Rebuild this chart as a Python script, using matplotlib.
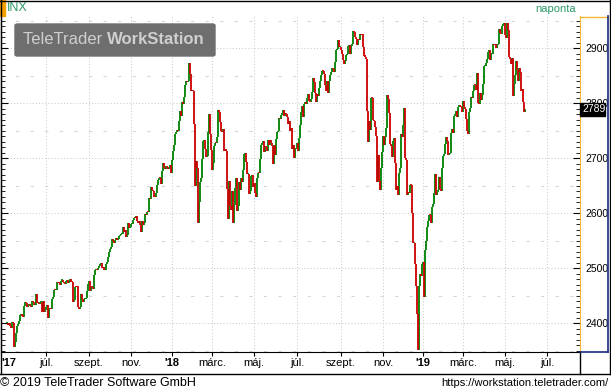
import numpy as np
import pandas as pd
import matplotlib
matplotlib.use('Agg')
from matplotlib import pyplot as plt
from matplotlib.lines import Line2D
from matplotlib.patches import Rectangle, FancyBboxPatch

# daily closes of INX, 8 May 2017 .. 30 May 2019
prev_close = 2399.29
close_2017 = [
    2399.38, 2396.92, 2399.63, 2394.44, 2390.90, 2402.32, 2400.67, 2357.03, 2365.72, 2381.73,
    2394.02, 2398.42, 2404.39, 2415.07, 2415.82, 2412.91, 2411.80,
    2430.06, 2439.07, 2436.10, 2429.33, 2433.14, 2433.79, 2431.77, 2429.39, 2440.35, 2437.92,
    2432.46, 2433.15, 2453.46, 2437.03, 2435.61, 2434.50, 2438.30, 2439.07, 2419.38, 2440.69,
    2419.70, 2423.41,
    2429.01, 2432.54, 2409.75, 2425.18, 2427.43, 2425.53, 2443.25, 2447.83, 2459.27, 2459.14,
    2460.61, 2473.83, 2473.45, 2472.54, 2469.91, 2477.13, 2477.83, 2475.42, 2472.10, 2470.30,
    2476.35, 2477.57, 2472.16, 2476.83, 2480.91, 2474.92, 2474.02, 2438.21, 2441.32, 2465.84,
    2464.61, 2468.11, 2430.01, 2425.55, 2428.37, 2452.51, 2444.04, 2438.97, 2443.05, 2444.24,
    2446.30, 2457.59, 2471.65,
    2476.55, 2457.85, 2465.54, 2465.10, 2461.43, 2488.11, 2496.48, 2498.37, 2495.62, 2500.23,
    2503.87, 2506.65, 2508.24, 2500.60, 2502.22, 2496.66, 2496.84, 2507.04, 2510.06, 2519.36,
    2529.12, 2534.58, 2537.74, 2552.07, 2549.33, 2544.73, 2550.64, 2555.24, 2550.93, 2553.17,
    2557.64, 2559.36, 2561.26, 2562.10, 2575.21, 2564.98, 2569.13, 2557.15, 2560.40, 2581.07,
    2572.83, 2575.26,
    2579.36, 2579.85, 2587.84, 2591.13, 2590.64, 2594.38, 2584.62, 2582.30, 2584.84, 2578.87,
    2564.62, 2585.64, 2578.85, 2582.14, 2599.03, 2597.08, 2602.42, 2601.42, 2627.04, 2626.07,
    2647.58,
    2642.22, 2639.44, 2629.57, 2629.27, 2636.98, 2651.50, 2659.99, 2664.11, 2662.85, 2652.01,
    2675.81, 2690.16, 2681.47, 2679.25, 2684.57, 2683.34, 2680.50, 2682.62, 2687.54, 2673.61,
]
close_2018 = [
    2695.81, 2713.06, 2723.99, 2743.15, 2747.71, 2751.29, 2748.23, 2767.56, 2786.24, 2776.42,
    2802.56, 2798.03, 2810.30, 2832.97, 2839.13, 2837.54, 2839.25, 2872.87, 2853.53, 2822.43,
    2823.81,
    2821.98, 2762.13, 2648.94, 2695.14, 2681.66, 2581.00, 2619.55, 2656.00, 2662.94, 2698.63,
    2731.20, 2732.22, 2716.26, 2701.33, 2703.96, 2747.30, 2779.60, 2744.28, 2713.83,
    2677.67, 2691.25, 2720.94, 2728.12, 2726.80, 2738.97, 2786.57, 2783.02, 2765.31, 2749.48,
    2747.33, 2752.01, 2712.92, 2716.94, 2711.93, 2643.69, 2588.26, 2658.55, 2612.62, 2605.00,
    2640.87,
    2581.88, 2614.45, 2644.69, 2662.84, 2604.47, 2613.16, 2656.87, 2642.19, 2663.99, 2656.30,
    2677.84, 2706.39, 2708.64, 2693.13, 2670.14, 2670.29, 2634.56, 2639.40, 2666.94, 2669.91,
    2648.05,
    2654.80, 2635.67, 2629.73, 2663.42, 2672.63, 2671.92, 2697.79, 2723.07, 2727.72, 2730.13,
    2711.45, 2722.46, 2720.13, 2712.97, 2733.01, 2724.44, 2733.29, 2727.76, 2721.33, 2689.86,
    2724.01, 2705.27,
    2734.62, 2746.87, 2748.80, 2772.35, 2770.37, 2779.03, 2782.00, 2786.85, 2775.63, 2782.49,
    2779.66, 2773.75, 2762.59, 2767.32, 2749.76, 2754.88, 2717.07, 2723.06, 2699.63, 2716.31,
    2718.37,
    2726.71, 2713.22, 2736.61, 2759.82, 2784.17, 2793.84, 2774.02, 2798.29, 2801.31, 2798.43,
    2809.55, 2815.62, 2804.49, 2801.83, 2806.98, 2820.40, 2846.07, 2837.44, 2818.82, 2802.60,
    2816.29,
    2813.36, 2827.22, 2840.35, 2850.40, 2858.45, 2857.70, 2853.58, 2833.28, 2821.93, 2839.96,
    2818.37, 2840.69, 2850.13, 2857.05, 2862.96, 2861.82, 2856.98, 2874.69, 2896.74, 2897.52,
    2914.04, 2901.13, 2901.52,
    2896.72, 2888.60, 2878.05, 2871.68, 2877.13, 2887.89, 2888.92, 2904.18, 2904.98, 2888.80,
    2904.31, 2907.95, 2930.75, 2929.67, 2919.37, 2915.56, 2905.97, 2914.00, 2913.98,
    2924.59, 2923.43, 2925.51, 2901.61, 2885.57, 2884.43, 2880.34, 2785.68, 2728.37, 2767.13,
    2750.79, 2809.92, 2809.21, 2768.78, 2767.78, 2755.88, 2740.69, 2656.10, 2705.57, 2658.69,
    2641.25, 2682.63, 2711.74,
    2740.37, 2723.06, 2738.31, 2755.45, 2813.89, 2806.83, 2781.01, 2726.22, 2722.18, 2701.58,
    2730.20, 2736.27, 2690.73, 2641.89, 2649.93, 2632.56, 2673.45, 2682.17, 2743.79, 2737.80,
    2760.17,
    2790.37, 2700.06, 2695.95, 2633.08, 2637.72, 2636.78, 2651.07, 2650.54, 2599.95, 2545.94,
    2546.16, 2506.96, 2467.42, 2416.62, 2351.10, 2467.70, 2488.83, 2485.74, 2506.85,
]
close_2019 = [
    2510.03, 2447.89, 2531.94, 2549.69, 2574.41, 2584.96, 2596.64, 2596.26, 2582.61, 2610.30,
    2616.10, 2635.96, 2670.71, 2632.90, 2638.70, 2642.33, 2664.76, 2643.85, 2640.00, 2681.05,
    2704.10,
    2706.53, 2724.87, 2737.70, 2731.61, 2706.05, 2707.88, 2709.80, 2744.73, 2753.03, 2745.73,
    2775.60, 2779.76, 2784.70, 2774.88, 2792.67, 2796.11, 2793.90, 2792.38, 2784.49,
    2803.69, 2792.81, 2789.65, 2771.45, 2748.93, 2743.07, 2783.30, 2791.52, 2810.92, 2808.48,
    2822.48, 2832.94, 2832.57, 2824.23, 2854.88, 2800.71, 2798.36, 2818.46, 2805.37, 2815.44,
    2834.40,
    2867.19, 2867.24, 2873.40, 2879.39, 2892.74, 2895.77, 2878.20, 2888.21, 2888.32, 2907.41,
    2905.58, 2907.06, 2900.45, 2905.03, 2907.97, 2933.68, 2927.25, 2926.17, 2939.88, 2943.03,
    2945.83,
    2923.73, 2917.52, 2945.64, 2932.47, 2884.05, 2879.42, 2870.72, 2881.40, 2811.87, 2834.41,
    2850.96, 2876.32, 2859.53, 2840.23, 2864.36, 2856.27, 2822.24, 2826.06, 2802.39, 2783.02,
    2788.86,
]
holidays = ['2017-05-29', '2017-07-04', '2017-09-04', '2017-11-23', '2017-12-25',
            '2018-01-01', '2018-01-15', '2018-02-19', '2018-03-30', '2018-05-28',
            '2018-07-04', '2018-09-03', '2018-11-22', '2018-12-05', '2018-12-25',
            '2019-01-01', '2019-01-21', '2019-02-18', '2019-04-19', '2019-05-27',
            '2019-07-04', '2019-09-02']
month_starts = ['2017-07-01', '2017-09-01', '2017-11-01', '2018-01-01', '2018-03-01',
                '2018-05-01', '2018-07-01', '2018-09-01', '2018-11-01', '2019-01-01',
                '2019-03-01', '2019-05-01', '2019-07-01']
month_labels = ['júl.', 'szept.', 'nov.', "'18", 'márc.', 'máj.', 'júl.', 'szept.',
                'nov.', "'19", 'márc.', 'máj.', 'júl.']
last_price = 2789

closes = np.array(close_2017 + close_2018 + close_2019)
opens = np.concatenate([[prev_close], closes[:-1]])

days = pd.bdate_range('2017-05-08', '2019-09-30')
days = days[~days.isin(pd.to_datetime(holidays))]
x = np.arange(len(closes))

W, H = 611, 392
fig = plt.figure(figsize=(W / 100, H / 100), dpi=100)
fig.patch.set_facecolor('white')


def fx(px):
    return px / W


def fy(py):
    return 1 - py / H


ax = fig.add_axes([fx(1), fy(352), fx(580) - fx(1), fy(16) - fy(352)])
ax.set_xlim(-6, 573)
ax.set_ylim(2347.3, 2958.2)

# grid
for v in range(2400, 3000, 100):
    ax.axhline(v, color='#cccccc', lw=0.75, ls=(0, (1, 2)), zorder=0)
for v in range(2350, 3000, 100):
    ax.axhline(v, color='#d4d4d4', lw=0.75, ls=(0, (3, 11)), zorder=0)
tick_idx = [int(np.searchsorted(days, pd.Timestamp(m))) for m in month_starts]
for t in tick_idx:
    ax.axvline(t, color='#cccccc', lw=0.75, ls=(0, (1, 2)), zorder=0)

# candles
up = closes >= opens
lo = np.minimum(opens, closes)
hi = np.maximum(opens, closes)
hi = np.maximum(hi, lo + 2)
ax.vlines(x[up], lo[up], hi[up], colors='#008000', linewidth=1.3, zorder=2)
ax.vlines(x[~up], lo[~up], hi[~up], colors='#cc0000', linewidth=1.3, zorder=2)

# axes styling
ax.spines['top'].set_visible(False)
ax.spines['left'].set_color('black')
ax.spines['bottom'].set_color('black')
ax.spines['right'].set_color('#f0b830')
ax.yaxis.set_major_locator(matplotlib.ticker.MultipleLocator(100))
ax.yaxis.set_minor_locator(matplotlib.ticker.MultipleLocator(10))
ax.tick_params(axis='y', which='both', left=True, right=True, direction='in',
               labelleft=False, labelright=True, labelsize=7.5, pad=4)
ax.tick_params(axis='y', which='major', length=5)
ax.tick_params(axis='y', which='minor', length=3)
for lab in ax.get_yticklabels():
    lab.set_fontfamily('Liberation Sans')
ax.set_xticks(tick_idx)
ax.set_xticklabels([])
ax.tick_params(axis='x', direction='out', length=3, color='black')

for t, lab in zip(tick_idx, month_labels):
    bold = lab.startswith("'")
    fig.text(fx(7 + t), fy(363), lab, ha='center', va='center', fontsize=8,
             fontweight='bold' if bold else 'normal', family='Liberation Sans')
fig.text(fx(1), fy(363), "'17", ha='left', va='center', fontsize=8,
         fontweight='bold', family='Liberation Sans')


# frame lines
def line(x0, y0, x1, y1, color='black', lw=1.0):
    fig.add_artist(Line2D([fx(x0), fx(x1)], [fy(y0), fy(y1)], color=color, lw=lw))


line(0, 0.5, 611, 0.5)
line(0.5, 0, 0.5, 374)
line(0, 374, 610, 374)
line(580, 352, 580, 374)
line(609.5, 0, 609.5, 374)
line(580, 16.5, 608, 16.5, color='#f0b830')
line(607.5, 16, 607.5, 352, color='#1a2a80', lw=1.2)
line(580, 351.5, 608, 351.5, color='#1a2a80', lw=1.2)

# header
fig.add_artist(Rectangle((0, fy(16)), fx(5), fy(0) - fy(16), transform=fig.transFigure,
                         color='#f5a000'))
fig.text(fx(7), fy(8), 'INX', ha='left', va='center', fontsize=9, color='#2f9a6a',
         family='Liberation Sans')
fig.text(fx(576), fy(9), 'naponta', ha='right', va='center', fontsize=8, color='#2f9a6a',
         family='Liberation Sans')

# watermark
fig.add_artist(FancyBboxPatch((fx(15), fy(56)), fx(200), fy(24) - fy(56),
                              boxstyle='round,pad=0,rounding_size=0.004',
                              transform=fig.transFigure, color='#6e6e6e', zorder=5))
t1 = fig.text(fx(23), fy(40), 'TeleTrader ', ha='left', va='center', fontsize=12,
              color='#cfcfcf', family='Liberation Sans', zorder=6)
fig.canvas.draw()
bb = t1.get_window_extent()
fig.text(bb.x1 / W, fy(40), 'WorkStation', ha='left', va='center', fontsize=12,
         color='#cfcfcf', fontweight='bold', family='Liberation Sans', zorder=6)

# last price marker
fig.add_artist(Rectangle((fx(580), fy(116)), fx(25), fy(103) - fy(116),
                         transform=fig.transFigure, color='black', zorder=5))
fig.text(fx(582), fy(109.5), str(last_price), ha='left', va='center', fontsize=7.5,
         color='white', family='Liberation Sans', zorder=6)

# footer
fig.text(fx(0), fy(383), '© 2019 TeleTrader Software GmbH', ha='left', va='center',
         fontsize=9, family='Liberation Sans')
fig.text(fx(609), fy(383), 'https://workstation.teletrader.com/', ha='right', va='center',
         fontsize=8, family='Liberation Sans')

fig.savefig('out.png', dpi=100)
